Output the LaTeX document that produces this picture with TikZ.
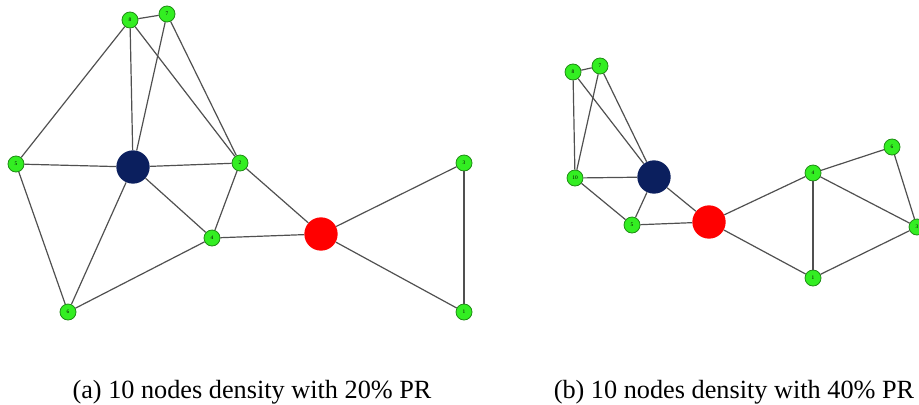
\documentclass[tikz,border=0pt]{standalone}
\usepackage{fontspec}
\setmainfont{Liberation Serif}
\definecolor{nodegreen}{HTML}{33EE22}
\definecolor{nodeedge}{HTML}{1E8C14}
\definecolor{hubblue}{HTML}{0B1F5E}
\definecolor{linkgray}{HTML}{505050}
\tikzset{
  vtx/.style = {circle, fill = nodegreen, draw = nodeedge, line width = 0.6pt,
                minimum size = 12, inner sep = 0pt, font = \fontsize{4}{4}\selectfont},
  hub/.style = {circle, fill = hubblue, minimum size = 25, inner sep = 0pt},
  dst/.style = {circle, fill = red, minimum size = 25, inner sep = 0pt},
  link/.style = {draw = linkgray, line width = 0.9pt},
  caption/.style = {anchor = base, font = \fontsize{19.7}{22}\selectfont}
}
\begin{document}
\begin{tikzpicture}[x = 0.75pt, y = -0.75pt]
    \useasboundingbox (0, 0) rectangle (919, 404);
      % (a) graph
      \node [vtx] (a8) at (130,  20) {8};
      \node [vtx] (a7) at (167,  14) {7};
      \node [vtx] (a5) at ( 16, 164) {5};
      \node [vtx] (a2) at (240, 163) {2};
      \node [vtx] (a4) at (212, 238) {4};
      \node [vtx] (a6) at ( 68, 312) {6};
      \node [vtx] (a3) at (464, 163) {3};
      \node [vtx] (a1) at (464, 312) {1};
      \node [hub] (ahub) at (133, 167) {};
      \node [dst] (adst) at (321, 234) {};
      \draw [link] (a8) -- (a7);
      \draw [link] (a8) -- (a5);
      \draw [link] (a8) -- (ahub);
      \draw [link] (a8) -- (a2);
      \draw [link] (a7) -- (ahub);
      \draw [link] (a7) -- (a2);
      \draw [link] (a5) -- (ahub);
      \draw [link] (a5) -- (a6);
      \draw [link] (ahub) -- (a2);
      \draw [link] (ahub) -- (a4);
      \draw [link] (ahub) -- (a6);
      \draw [link] (a2) -- (a4);
      \draw [link] (a2) -- (adst);
      \draw [link] (a4) -- (adst);
      \draw [link] (a4) -- (a6);
      \draw [link] (adst) -- (a3);
      \draw [link] (adst) -- (a1);
      \draw [link] (a3) -- (a1);
      % (b) graph
      \node [vtx] (b8) at (573,  72) {8};
      \node [vtx] (b7) at (600,  66) {7};
      \node [vtx] (b10) at (575, 178) {10};
      \node [vtx] (b5) at (632, 225) {5};
      \node [vtx] (b4) at (813, 173) {4};
      \node [vtx] (b6) at (892, 147) {6};
      \node [vtx] (b3) at (917, 227) {3};
      \node [vtx] (b1) at (813, 278) {1};
      \node [hub] (bhub) at (654, 177) {};
      \node [dst] (bdst) at (709, 222) {};
      \draw [link] (b8) -- (b7);
      \draw [link] (b8) -- (b10);
      \draw [link] (b7) -- (b10);
      \draw [link] (b8) -- (bhub);
      \draw [link] (b7) -- (bhub);
      \draw [link] (b10) -- (bhub);
      \draw [link] (b10) -- (b5);
      \draw [link] (b5) -- (bhub);
      \draw [link] (b5) -- (bdst);
      \draw [link] (bhub) -- (bdst);
      \draw [link] (bdst) -- (b4);
      \draw [link] (bdst) -- (b1);
      \draw [link] (b4) -- (b6);
      \draw [link] (b4) -- (b1);
      \draw [link] (b4) -- (b3);
      \draw [link] (b6) -- (b3);
      \draw [link] (b1) -- (b3);
      % captions
      \node [caption] (capa) at (252, 398) {(a) 10 nodes density with 20\% PR};
      \node [caption] (capb) at (734, 398) {(b) 10 nodes density with 40\% PR};
    \end{tikzpicture}
\end{document}
